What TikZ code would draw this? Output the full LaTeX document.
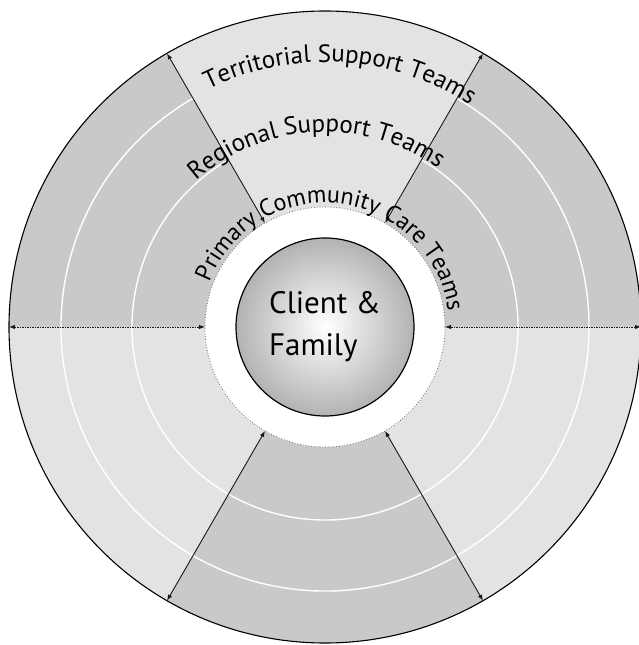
\documentclass[tikz,border=0pt]{standalone}
\usepackage{fontspec}
\setmainfont{PT Sans}
\usetikzlibrary{arrows.meta,decorations.text}

\newcommand\teamfont{\fontsize{25}{25}\selectfont}
\newcommand\carefont{\fontsize{24}{24}\selectfont}

\begin{document}
\begin{tikzpicture}[x=1pt,y=1pt,
    darksector/.style={fill=black!21},
    lightsector/.style={fill=black!11},
    whitering/.style={draw=white,line width=1.4pt},
    spoke/.style={{Latex[length=6pt,width=4.5pt]}-{Latex[length=6pt,width=4.5pt]},line width=0.9pt,draw=black!90},
    dotspoke/.style={spoke,dash pattern=on 1.8pt off 0.7pt},
    teamlabel/.style={decorate,decoration={text along path,text align=center,text={|\teamfont|#1}}},
    carelabel/.style={decorate,decoration={text along path,text align=center,text={|\carefont|#1}}},
    client/.style={circle,draw,line width=1.2pt,minimum size=178pt,inner color=white,outer color=black!30,
                   align=left,font=\fontsize{31}{42}\selectfont}]
    \useasboundingbox (-325,-318) rectangle (314,327);
    \clip (-325,-318) rectangle (314,327);

    % sectors
    \foreach \a/\s in {0/darksector,60/lightsector,120/darksector,180/lightsector,240/darksector,300/lightsector}
        \fill[\s] (0,0) -- (\a:316) arc[start angle=\a,end angle=\a+60,radius=316] -- cycle;
    \draw[whitering] (120:193) arc[start angle=120,end angle=420,radius=193];
    \draw[whitering] (120:264) arc[start angle=120,end angle=420,radius=264];
    \draw[line width=1.1pt] (0,0) circle[radius=316];
    \fill[white] (0,0) circle[radius=120];
    \draw[black!60,line width=0.8pt,dotted] (0,0) circle[radius=120];

    % spoke ends
    \foreach \a in {0,60,...,300} {
        \coordinate (out\a) at (\a:316);
        \coordinate (in\a) at (\a:120);
    }
    \draw[dotspoke] (out0) -- (in0);
    \draw[dotspoke] (out180) -- (in180);
    \foreach \a in {60,120,240,300}
        \draw[spoke] (out\a) -- (in\a);

    % labels
    \path[teamlabel={Territorial Support Teams}] (117:265) arc[start angle=117,end angle=56,radius=265];
    \path[teamlabel={Regional Support Teams}] (133:195) arc[start angle=133,end angle=53,radius=195];
    \path[carelabel={Primary Community Care Teams}] (157:124) arc[start angle=157,end angle=9,radius=124];

    \node[client] (family) at (0,0) {Client \&\\Family};
\end{tikzpicture}
\end{document}
